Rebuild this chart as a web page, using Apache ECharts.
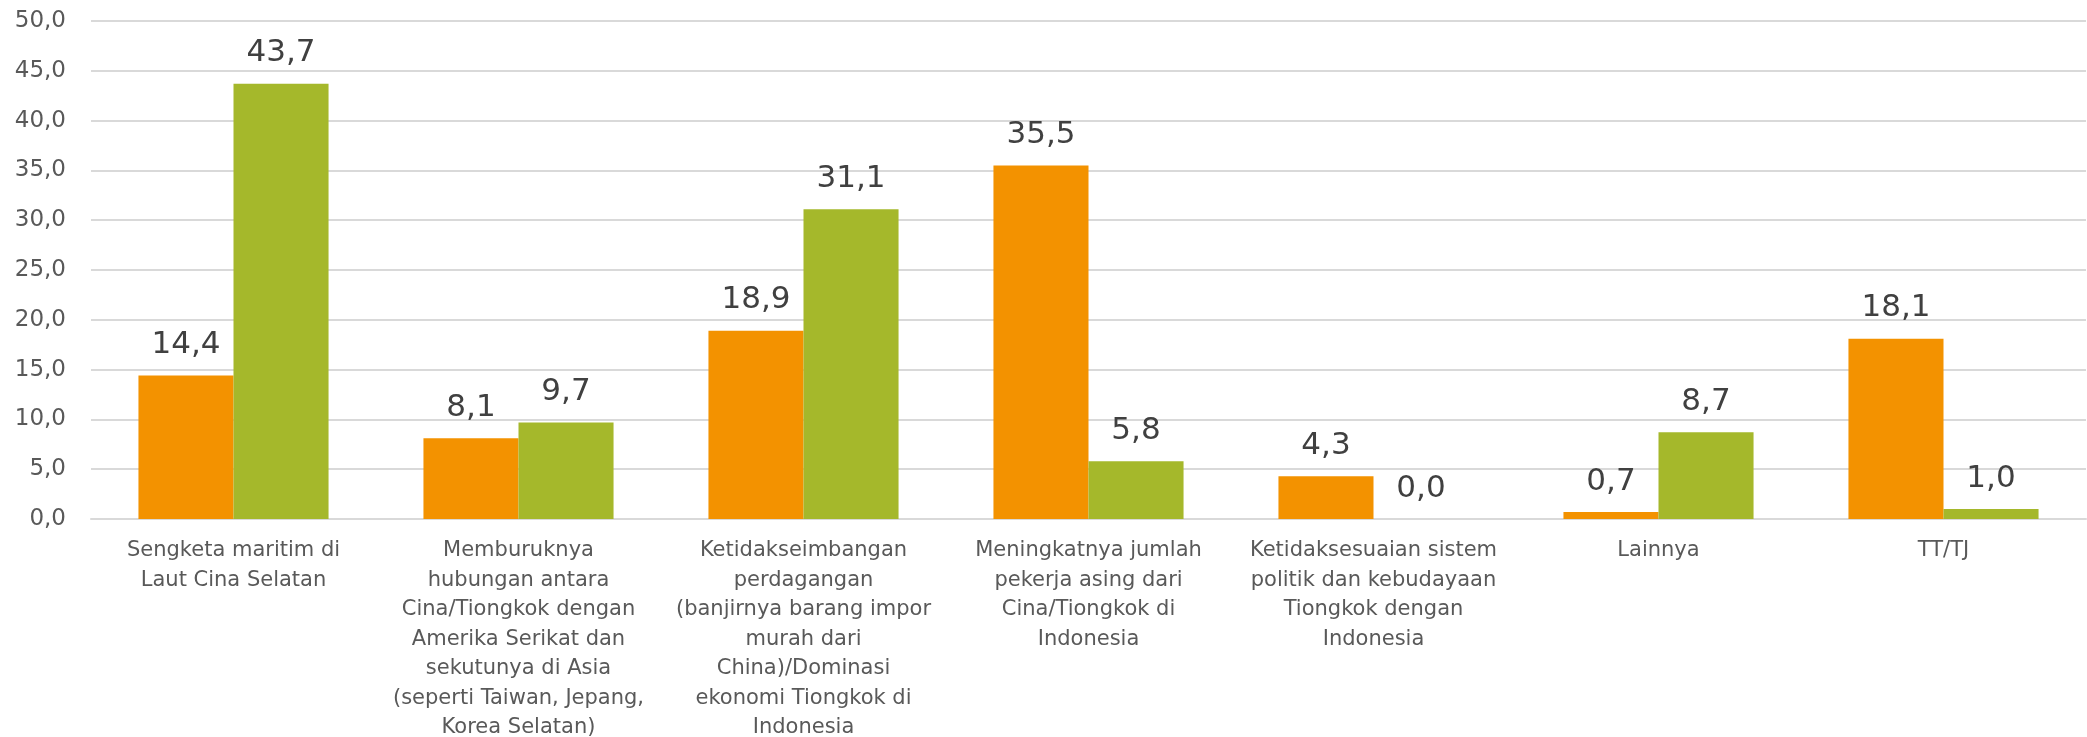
<!DOCTYPE html>
<html>
<head>
<meta charset="utf-8">
<script src="https://cdn.jsdelivr.net/npm/echarts@6/dist/echarts.min.js"></script>
<style>
  html, body { margin: 0; padding: 0; background: #fff; }
  #chart { width: 2087px; height: 737px; }
</style>
</head>
<body>
<div id="chart"></div>
<script>
// categories (line breaks as in the original)
var categories = [
  'Sengketa maritim di\nLaut Cina Selatan',
  'Memburuknya\nhubungan antara\nCina/Tiongkok dengan\nAmerika Serikat dan\nsekutunya di Asia\n(seperti Taiwan, Jepang,\nKorea Selatan)',
  'Ketidakseimbangan\nperdagangan\n(banjirnya barang impor\nmurah dari\nChina)/Dominasi\nekonomi Tiongkok di\nIndonesia',
  'Meningkatnya jumlah\npekerja asing dari\nCina/Tiongkok di\nIndonesia',
  'Ketidaksesuaian sistem\npolitik dan kebudayaan\nTiongkok dengan\nIndonesia',
  'Lainnya',
  'TT/TJ'
];
var orangeValues = [14.4, 8.1, 18.9, 35.5, 4.3, 0.7, 18.1];
var greenValues = [43.7, 9.7, 31.1, 5.8, 0.0, 8.7, 1.0];
var yMin = 0, yMax = 50, yStep = 5;

var FONT = '"DejaVu Sans", "Century Gothic", sans-serif';

function comma(v) {
  return Number(v).toFixed(1).replace('.', ',');
}

var chart = echarts.init(document.getElementById('chart'), null, { renderer: 'canvas' });

var labelStyle = {
  show: true,
  position: 'top',
  distance: 15,
  color: '#404040',
  fontSize: 31,
  fontFamily: FONT,
  formatter: function (p) { return comma(p.value); }
};

var option = {
  animation: false,
  backgroundColor: '#ffffff',
  grid: {
    left: 91, right: 1, top: 21, bottom: 218,
    containLabel: false,
    outerBoundsMode: 'none'
  },
  xAxis: {
    type: 'category',
    data: categories,
    axisTick: { show: false },
    axisLine: { show: true, lineStyle: { color: '#D9D9D9', width: 2 } },
    axisLabel: {
      interval: 0,
      margin: 17,
      color: '#595959',
      fontSize: 21,
      fontFamily: FONT,
      lineHeight: 29.5
    }
  },
  yAxis: {
    type: 'value',
    min: yMin,
    max: yMax,
    interval: yStep,
    axisLine: { show: false },
    axisTick: { show: false },
    splitLine: { lineStyle: { color: '#D9D9D9', width: 2 } },
    axisLabel: {
      margin: 25,
      color: '#595959',
      fontSize: 23,
      fontFamily: FONT,
      formatter: function (v) { return comma(v); }
    }
  },
  series: [
    {
      name: 'orange',
      type: 'bar',
      data: orangeValues,
      barGap: '0%',
      barCategoryGap: '33.3%',
      itemStyle: { color: '#F39200' },
      label: labelStyle
    },
    {
      name: 'green',
      type: 'bar',
      data: greenValues,
      barGap: '0%',
      barCategoryGap: '33.3%',
      itemStyle: { color: '#A5B82B' },
      label: labelStyle
    }
  ]
};

chart.setOption(option);
</script>
</body>
</html>
